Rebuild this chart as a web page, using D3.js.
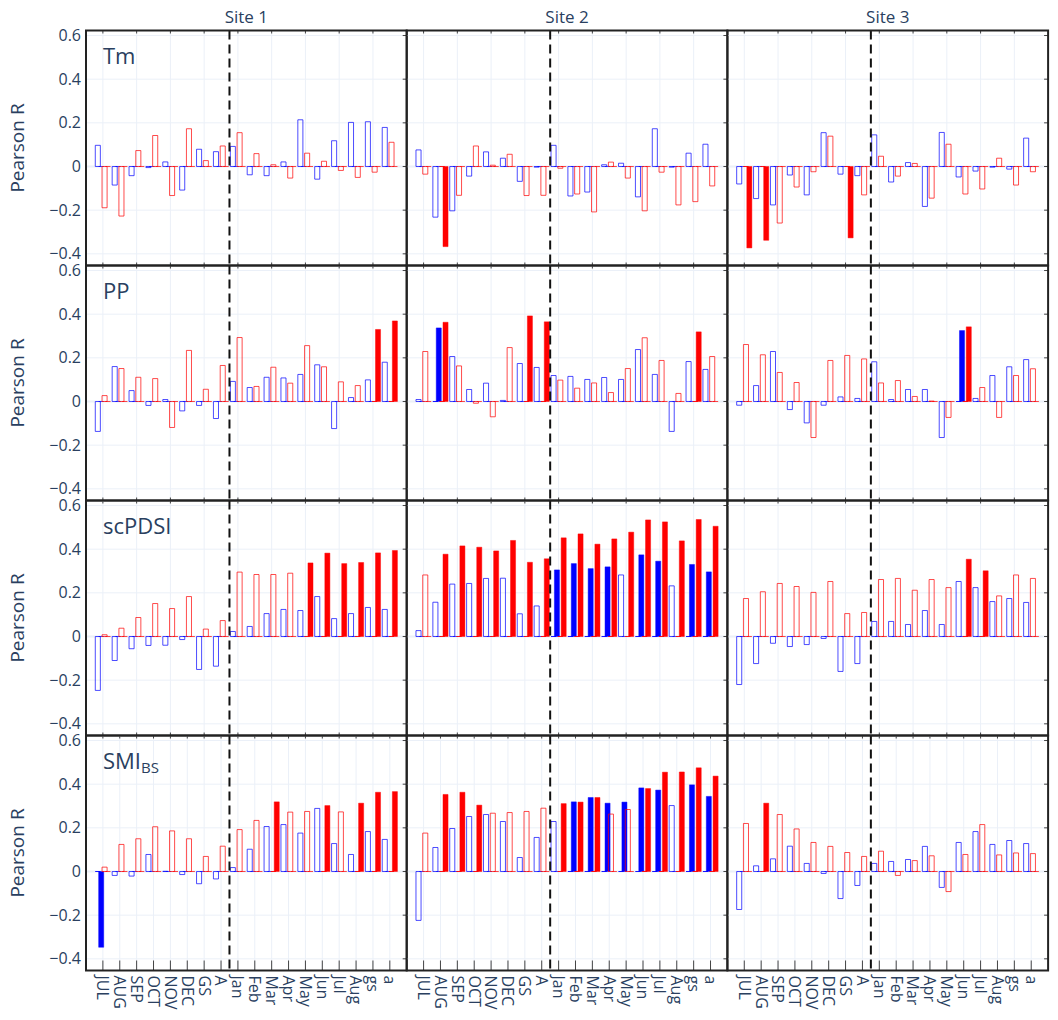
<!DOCTYPE html>
<html>
<head>
<meta charset="utf-8">
<script src="https://cdn.jsdelivr.net/npm/d3@7"></script>
<style>
  body { margin: 0; background: #fff; }
  text { font-family: "Open Sans", verdana, arial, sans-serif; fill: #2a3f5f; }
</style>
</head>
<body>
<div id="chart"></div>
<script>
// categories on the x axis (previous year upper case, current year lower case)
var months = ["JUL", "AUG", "SEP", "OCT", "NOV", "DEC", "GS", "A",
  "Jan", "Feb", "Mar", "Apr", "May", "Jun", "Jul", "Aug", "gs", "a"];
var sites = ["Site 1", "Site 2", "Site 3"];
var yTicks = [-0.4, -0.2, 0, 0.2, 0.4, 0.6];

// Pearson R per site, one row of 18 months per site
// *Sig lists hold the month indices drawn as filled (significant) bars
var tmBlue = [
  [0.097, -0.085, -0.042, -0.005, 0.021, -0.108, 0.079, 0.068, 0.092, -0.038, -0.042, 0.021, 0.214, -0.058, 0.118, 0.202, 0.205, 0.179],
  [0.076, -0.232, -0.203, -0.044, 0.067, 0.038, -0.068, -0.003, 0.097, -0.135, -0.117, 0.008, 0.015, -0.139, 0.173, -0.003, 0.061, 0.102],
  [-0.08, -0.147, -0.176, -0.039, -0.13, 0.155, -0.035, -0.042, 0.145, -0.071, 0.018, -0.183, 0.156, -0.048, -0.021, -0.003, -0.012, 0.13]
];
var tmRed = [
  [-0.189, -0.227, 0.073, 0.142, -0.133, 0.173, 0.027, 0.094, 0.155, 0.059, 0.008, -0.053, 0.061, 0.024, -0.018, -0.05, -0.026, 0.111],
  [-0.035, -0.367, -0.132, 0.094, 0.006, 0.056, -0.133, -0.132, -0.008, -0.126, -0.208, 0.02, -0.053, -0.203, -0.026, -0.176, -0.161, -0.089],
  [-0.373, -0.338, -0.259, -0.094, -0.024, 0.139, -0.327, -0.13, 0.047, -0.044, 0.014, -0.145, 0.102, -0.126, -0.103, 0.038, -0.085, -0.024]
];
var tmBlueSig = [[], [], []];
var tmRedSig = [[], [1], [0, 1, 6]];

var ppBlue = [
  [-0.137, 0.16, 0.05, -0.018, 0.009, -0.043, -0.018, -0.078, 0.092, 0.064, 0.111, 0.108, 0.124, 0.168, -0.124, 0.018, 0.099, 0.18],
  [0.009, 0.337, 0.206, 0.055, 0.084, 0.005, 0.174, 0.156, 0.119, 0.115, 0.101, 0.11, 0.101, 0.238, 0.124, -0.137, 0.183, 0.147],
  [-0.017, 0.073, 0.229, -0.037, -0.098, -0.017, 0.021, 0.014, 0.182, 0.009, 0.055, 0.055, -0.165, 0.325, 0.014, 0.119, 0.159, 0.192]
];
var ppRed = [
  [0.027, 0.151, 0.111, 0.105, -0.119, 0.234, 0.056, 0.165, 0.293, 0.069, 0.157, 0.084, 0.256, 0.159, 0.09, 0.073, 0.33, 0.369],
  [0.229, 0.363, 0.163, -0.008, -0.07, 0.247, 0.392, 0.365, 0.098, 0.061, 0.085, 0.041, 0.151, 0.292, 0.188, 0.037, 0.319, 0.206],
  [0.261, 0.214, 0.133, 0.087, -0.165, 0.188, 0.211, 0.195, 0.085, 0.096, 0.023, 0.002, -0.073, 0.342, 0.064, -0.073, 0.119, 0.15]
];
var ppBlueSig = [[], [1], [13]];
var ppRedSig = [[16, 17], [1, 6, 7, 16], [13]];

var pdsiBlue = [
  [-0.247, -0.11, -0.056, -0.041, -0.04, -0.014, -0.151, -0.136, 0.023, 0.046, 0.105, 0.124, 0.119, 0.183, 0.082, 0.105, 0.133, 0.124],
  [0.027, 0.157, 0.24, 0.243, 0.266, 0.267, 0.104, 0.14, 0.305, 0.334, 0.311, 0.319, 0.282, 0.374, 0.345, 0.232, 0.33, 0.296],
  [-0.22, -0.124, -0.031, -0.046, -0.037, -0.009, -0.16, -0.124, 0.069, 0.069, 0.055, 0.119, 0.055, 0.252, 0.224, 0.16, 0.174, 0.156]
];
var pdsiRed = [
  [0.008, 0.038, 0.087, 0.151, 0.128, 0.183, 0.034, 0.073, 0.295, 0.284, 0.284, 0.29, 0.337, 0.382, 0.334, 0.339, 0.383, 0.394],
  [0.282, 0.377, 0.415, 0.409, 0.392, 0.44, 0.34, 0.356, 0.452, 0.47, 0.423, 0.447, 0.478, 0.534, 0.525, 0.438, 0.536, 0.505],
  [0.174, 0.205, 0.243, 0.229, 0.202, 0.252, 0.105, 0.11, 0.261, 0.266, 0.212, 0.261, 0.224, 0.354, 0.301, 0.186, 0.282, 0.266]
];
var pdsiBlueSig = [[], [8, 9, 10, 11, 13, 14, 16, 17], []];
var pdsiRedSig = [[12, 13, 14, 15, 16, 17], [1, 2, 3, 4, 5, 6, 7, 8, 9, 10, 11, 12, 13, 14, 15, 16, 17], [13, 14]];

var smiBlue = [
  [-0.347, -0.018, -0.021, 0.078, 0.001, -0.014, -0.056, -0.034, 0.018, 0.102, 0.206, 0.215, 0.176, 0.289, 0.128, 0.078, 0.183, 0.147],
  [-0.224, 0.11, 0.197, 0.252, 0.261, 0.229, 0.064, 0.156, 0.229, 0.319, 0.339, 0.313, 0.318, 0.383, 0.373, 0.302, 0.397, 0.344],
  [-0.174, 0.026, 0.058, 0.116, 0.037, -0.009, -0.124, -0.064, 0.037, 0.046, 0.055, 0.115, -0.073, 0.133, 0.183, 0.124, 0.142, 0.128]
];
var smiRed = [
  [0.02, 0.124, 0.15, 0.205, 0.186, 0.15, 0.069, 0.116, 0.192, 0.234, 0.319, 0.272, 0.275, 0.302, 0.273, 0.313, 0.363, 0.366],
  [0.176, 0.353, 0.363, 0.304, 0.267, 0.27, 0.275, 0.29, 0.311, 0.318, 0.339, 0.263, 0.284, 0.38, 0.455, 0.456, 0.475, 0.437],
  [0.22, 0.313, 0.261, 0.195, 0.133, 0.115, 0.087, 0.069, 0.093, -0.018, 0.05, 0.072, -0.092, 0.078, 0.215, 0.076, 0.085, 0.082]
];
var smiBlueSig = [[0], [9, 10, 11, 12, 13, 14, 16, 17], []];
var smiRedSig = [[10, 13, 15, 16, 17], [1, 2, 3, 8, 9, 10, 13, 14, 15, 16, 17], [1]];

var rows = [
  { name: "Tm", blue: tmBlue, red: tmRed, blueSig: tmBlueSig, redSig: tmRedSig },
  { name: "PP", blue: ppBlue, red: ppRed, blueSig: ppBlueSig, redSig: ppRedSig },
  { name: "scPDSI", blue: pdsiBlue, red: pdsiRed, blueSig: pdsiBlueSig, redSig: pdsiRedSig },
  { name: "SMI", sub: "BS", blue: smiBlue, red: smiRed, blueSig: smiBlueSig, redSig: smiRedSig }
];

var chartW = 1058, chartH = 1020;
var marginLeft = 86, marginTop = 30.5;
var panelW = 320.7, panelH = 235;

var svg = d3.select("#chart")
  .append("svg")
  .attr("width", chartW)
  .attr("height", chartH);

var x = d3.scaleLinear().domain([-1, 18]).range([0, panelW]);
var y = d3.scaleLinear().domain([-0.4535, 0.623]).range([panelH, 0]);
var barW = x(0.3) - x(0);

// four bar slots per month: blue (not sig / sig), red (not sig / sig)
function barPath(cx, v) {
  var x0 = cx - barW / 2, x1 = cx + barW / 2;
  var y0 = y(0), y1 = y(v);
  return "M" + x0 + "," + y0 + "H" + x1 + "V" + y1 + "H" + x0 + "Z";
}

rows.forEach(function (row, r) {
  var bottomRow = r === rows.length - 1;

  sites.forEach(function (site, c) {
    var g = svg.append("g")
      .attr("transform", "translate(" + (marginLeft + c * panelW) + "," + (marginTop + r * panelH) + ")");

    // grid
    var gridIdx = months.map(function (d, i) { return i; })
      .filter(function (i) { return bottomRow || i % 2 === 0; });

    g.selectAll(".vgrid").data(gridIdx).enter().append("line")
      .attr("x1", function (i) { return x(i); })
      .attr("x2", function (i) { return x(i); })
      .attr("y1", 0).attr("y2", panelH)
      .attr("stroke", "#EBF0F8").attr("stroke-width", 1);

    g.selectAll(".hgrid").data(yTicks).enter().append("line")
      .attr("x1", 0).attr("x2", panelW)
      .attr("y1", function (d) { return y(d); })
      .attr("y2", function (d) { return y(d); })
      .attr("stroke", "#EBF0F8")
      .attr("stroke-width", function (d) { return d === 0 ? 2 : 1; });

    var blue = row.blue[c], red = row.red[c];
    var bs = row.blueSig[c], rs = row.redSig[c];

    var traces = [
      { off: -0.3, color: "0,0,255", filled: false, val: function (i) { return bs.indexOf(i) < 0 ? blue[i] : 0; } },
      { off: -0.1, color: "0,0,255", filled: true, val: function (i) { return bs.indexOf(i) >= 0 ? blue[i] : 0; } },
      { off: 0.1, color: "255,0,0", filled: false, val: function (i) { return rs.indexOf(i) < 0 ? red[i] : 0; } },
      { off: 0.3, color: "255,0,0", filled: true, val: function (i) { return rs.indexOf(i) >= 0 ? red[i] : 0; } }
    ];

    traces.forEach(function (t) {
      g.selectAll(null).data(months).enter().append("path")
        .attr("d", function (d, i) { return barPath(x(i + t.off), t.val(i)); })
        .attr("fill", t.filled ? "rgb(" + t.color + ")" : "none")
        .attr("stroke", "rgba(" + t.color + "," + (t.filled ? 0.45 : 0.7) + ")")
        .attr("stroke-width", 1);
    });

    // previous / current year separator
    g.append("line")
      .attr("x1", x(7.5)).attr("x2", x(7.5))
      .attr("y1", 0).attr("y2", panelH)
      .attr("stroke", "#111").attr("stroke-width", 2)
      .attr("stroke-dasharray", "9,5");

    // inside ticks
    var tickLen = bottomRow ? 10 : 3;
    g.selectAll(".xtick").data(gridIdx).enter().append("line")
      .attr("x1", function (i) { return x(i); })
      .attr("x2", function (i) { return x(i); })
      .attr("y1", panelH).attr("y2", panelH - tickLen)
      .attr("stroke", "#444").attr("stroke-width", 1);
    g.selectAll(".xtickTop").data(gridIdx).enter().append("line")
      .attr("x1", function (i) { return x(i); })
      .attr("x2", function (i) { return x(i); })
      .attr("y1", 0).attr("y2", 3)
      .attr("stroke", "#444").attr("stroke-width", 1);
    g.selectAll(".ytick").data(yTicks).enter().append("line")
      .attr("x1", panelW - 4).attr("x2", panelW)
      .attr("y1", function (d) { return y(d); })
      .attr("y2", function (d) { return y(d); })
      .attr("stroke", "#444").attr("stroke-width", 1);

    // frame
    g.append("rect")
      .attr("x", 0).attr("y", 0)
      .attr("width", panelW).attr("height", panelH)
      .attr("fill", "none")
      .attr("stroke", "#222").attr("stroke-width", 2);

    if (c === 0) {
      // y axis labels
      g.selectAll(".ylab").data(yTicks).enter().append("text")
        .attr("x", -5)
        .attr("y", function (d) { return y(d); })
        .attr("dy", "0.35em")
        .attr("text-anchor", "end")
        .style("font-size", "16px")
        .text(function (d) { return d === 0 ? "0" : d3.format(".1f")(d).replace("-", "\u2212"); });

      g.append("text")
        .attr("transform", "translate(" + (24 - marginLeft) + "," + (panelH / 2) + ") rotate(-90)")
        .attr("text-anchor", "middle")
        .style("font-size", "19px")
        .text("Pearson R");

      var lab = g.append("text")
        .attr("x", 17).attr("y", 33.5)
        .style("font-size", "22px")
        .text(row.name);
      if (row.sub) {
        lab.append("tspan")
          .attr("dy", 4)
          .style("font-size", "15px")
          .text(row.sub);
      }
    }

    if (r === 0) {
      g.append("text")
        .attr("x", panelW / 2).attr("y", -8)
        .attr("text-anchor", "middle")
        .style("font-size", "17px")
        .text(site);
    }

    if (bottomRow) {
      g.selectAll(".xlab").data(months).enter().append("text")
        .attr("transform", function (d, i) {
          return "translate(" + x(i) + "," + (panelH + 5) + ") rotate(90)";
        })
        .attr("dy", "0.35em")
        .style("font-size", "16px")
        .text(function (d) { return d; });
    }
  });
});
</script>
</body>
</html>
